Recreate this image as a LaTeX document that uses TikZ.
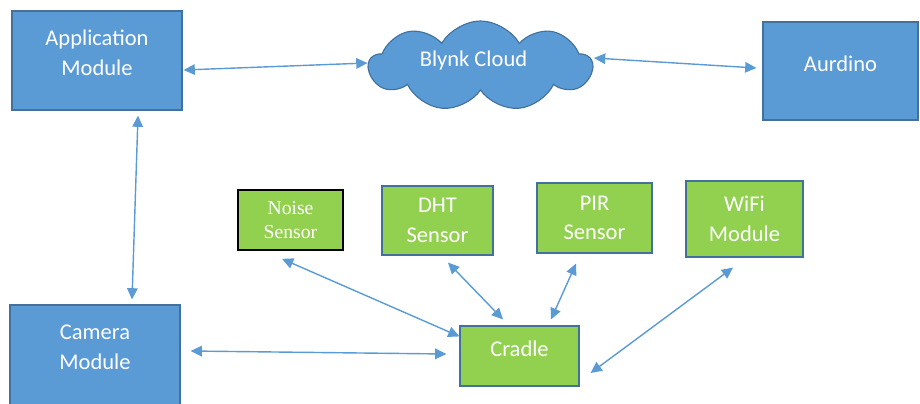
\documentclass[tikz,border=0pt]{standalone}
\usepackage{fontspec}
\setmainfont{Carlito}
\newfontfamily\noisefont{Liberation Serif}
\usepackage{tikz}
\usetikzlibrary{shapes.symbols,arrows.meta,calc}
\definecolor{modulecolor}{RGB}{91,155,213}
\definecolor{edgecolor}{RGB}{65,113,156}
\definecolor{sensorcolor}{RGB}{146,208,80}

\begin{document}
\begin{tikzpicture}[
    x=0.025cm, y=-0.025cm,
    module/.style={rectangle, draw=edgecolor, line width=0.8pt, fill=modulecolor, inner sep=0pt},
    sensor/.style={rectangle, draw=edgecolor, line width=0.8pt, fill=sensorcolor, inner sep=0pt, align=center, text=white, font=\fontsize{16}{21}\selectfont},
    boxtext/.style={align=center, text=white, font=\fontsize{16}{21.5}\selectfont},
    link/.style={{Triangle[length=8pt,width=7.5pt]}-{Triangle[length=8pt,width=7.5pt]}, draw=modulecolor, line width=1pt}
]
    \clip (0,0) rectangle (920,403);

    % Top row
    \node[module, minimum width=4.25cm, minimum height=2.475cm,
          label={[boxtext, yshift=5.5pt]center:{Application\\Module}}] (app) at (97,60.5) {};
    \node[cloud, cloud puffs=9, cloud puff arc=120, draw=edgecolor, line width=0.8pt, fill=modulecolor,
          inner sep=0pt, minimum width=5.575cm, minimum height=2.25cm,
          label={[boxtext, xshift=-5pt, yshift=4pt]center:{Blynk Cloud}}] (cloud) at (480.5,66) {};
    \node[module, minimum width=3.875cm, minimum height=2.45cm,
          label={[boxtext, yshift=5.5pt]center:{Aurdino}}] (aurdino) at (840.5,71) {};

    % Sensors
    \node[sensor, draw=black, line width=1.2pt, minimum width=2.625cm, minimum height=1.5cm,
          font=\noisefont\fontsize{14}{17}\selectfont] (noise) at (290.5,220) {Noise\\Sensor};
    \node[sensor, minimum width=2.775cm, minimum height=1.725cm] (dht) at (437.5,220.5) {DHT\\Sensor};
    \node[sensor, minimum width=2.875cm, minimum height=1.75cm] (pir) at (594.5,218) {PIR\\Sensor};
    \node[sensor, minimum width=2.925cm, minimum height=1.9cm] (wifi) at (744.5,219) {WiFi\\Module};

    % Bottom row
    \node[module, minimum width=4.25cm, minimum height=2.5cm,
          label={[boxtext, yshift=5.5pt]center:{Camera\\Module}}] (camera) at (95,355) {};
    \node[sensor, minimum width=2.975cm, minimum height=1.5cm,
          label={[boxtext, yshift=5.5pt]center:{Cradle}}] (cradle) at (519.5,356) {};

    % Links
    \draw[link] ($(app.east)+(1,9.5)$) -- ($(cloud.center)+(-113,-3)$);
    \draw[link] ($(cloud.center)+(113.5,-8)$) -- ($(aurdino.west)+(-6,-3)$);
    \draw[link] ($(app.south)+(41,5)$) -- ($(camera.north)+(37,-5)$);
    \draw[link] ($(camera.east)+(10,-4)$) -- ($(cradle.west)+(-13,-2)$);
    \draw[link] ($(noise.south)+(-8.5,8)$) -- ($(cradle.north west)+(0,11)$);
    \draw[link] ($(dht.south)+(10.5,7)$) -- ($(cradle.north)+(-16.5,-6)$);
    \draw[link] ($(pir.south)+(-18.5,10)$) -- ($(cradle.north)+(31.5,-6)$);
    \draw[link] ($(wifi.south)+(-11.5,10)$) -- ($(cradle.east)+(11,17)$);
\end{tikzpicture}
\end{document}
